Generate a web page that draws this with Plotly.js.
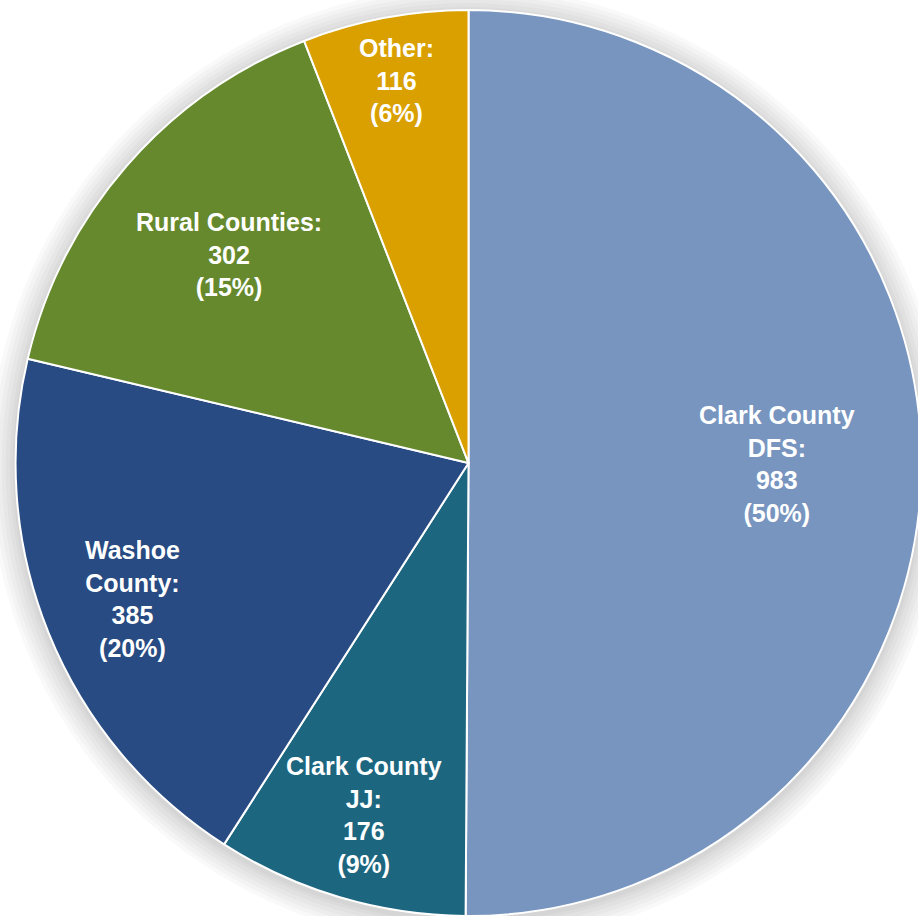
<!DOCTYPE html>
<html>
<head>
<meta charset="utf-8">
<script src="https://cdn.plot.ly/plotly-3.0.1.min.js"></script>
<style>html,body{margin:0;padding:0;background:#fff;overflow:hidden;width:918px;height:916px;}#chart{width:924px;height:916px;}</style>
</head>
<body>
<div id="chart"></div>
<script>
const categories = ["Clark County DFS", "Clark County JJ", "Washoe County", "Rural Counties", "Other"];
const displayLabels = ["Clark County<br>DFS", "Clark County<br>JJ", "Washoe<br>County", "Rural Counties", "Other"];
const values = [983, 176, 385, 302, 116];
const colors = ["#7795bf", "#1d6680", "#274b82", "#66892d", "#d9a000"];

// layout settings (not data)
const W = 924, H = 916;
const domX = [0.0141, 1], domY = [0, 0.989];
const labelRadius = [0.68, 0.81, 0.8, 0.70, 0.86];

const cx = (domX[0] + domX[1]) / 2, cy = (domY[0] + domY[1]) / 2;
const R = Math.min((domX[1] - domX[0]) * W, (domY[1] - domY[0]) * H) / 2;
const total = values.reduce((a, b) => a + b, 0);
let cum = 0;
const annotations = values.map((v, i) => {
  const mid = (cum + v / 2) / total * 2 * Math.PI;
  cum += v;
  const r = R * labelRadius[i];
  return {
    xref: "paper", yref: "paper",
    x: cx + r * Math.sin(mid) / W,
    y: cy + r * Math.cos(mid) / H,
    xanchor: "center", yanchor: "middle",
    showarrow: false, align: "center",
    text: "<b>" + displayLabels[i] + ":<br>" + v + "<br>(" + Math.round(v / total * 100) + "%)</b>",
    font: {family: "Liberation Sans, Arial, sans-serif", size: 25, color: "#ffffff"}
  };
});

const shadow = [26, 22, 18, 14, 10, 6, 3].map(d => ({
  type: "circle", xref: "paper", yref: "paper", layer: "below",
  x0: cx - (R + d) / W, x1: cx + (R + d) / W,
  y0: cy - (R + d) / H - 3 / H, y1: cy + (R + d) / H - 3 / H,
  fillcolor: "rgba(0,0,0,0.022)", line: {width: 0}
}));

Plotly.newPlot("chart", [{
  type: "pie",
  labels: categories,
  values: values,
  sort: false,
  direction: "clockwise",
  rotation: 0,
  marker: {colors: colors, line: {color: "#ffffff", width: 2}},
  textinfo: "none",
  hoverinfo: "none",
  domain: {x: domX, y: domY}
}], {
  width: W, height: H,
  margin: {l: 0, r: 0, t: 0, b: 0},
  paper_bgcolor: "#ffffff",
  showlegend: false,
  annotations: annotations,
  shapes: shadow
}, {displayModeBar: false, staticPlot: true});
</script>
</body>
</html>
